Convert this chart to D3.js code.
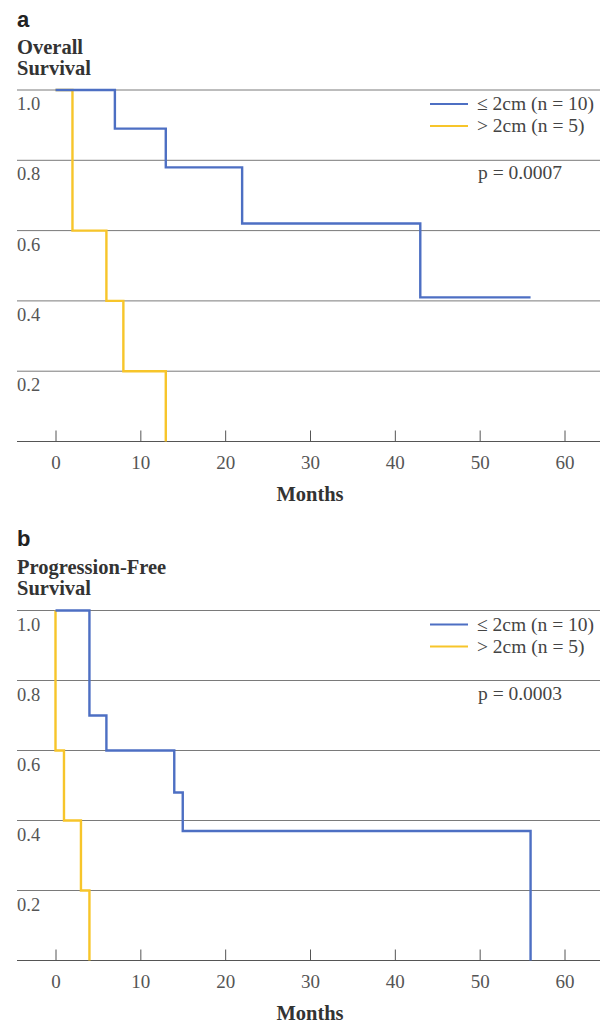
<!DOCTYPE html>
<html>
<head>
<meta charset="utf-8">
<script src="https://cdn.jsdelivr.net/npm/d3@7"></script>
<style>
  html, body { margin: 0; padding: 0; background: #fff; }
  svg { display: block; }
</style>
</head>
<body>
<svg id="chart" width="610" height="1023"></svg>
<script>
// ---- Data ----
const xTicks = [0, 10, 20, 30, 40, 50, 60];
const yTicks = [0.2, 0.4, 0.6, 0.8, 1.0];
const yTickLabels = ["0.2", "0.4", "0.6", "0.8", "1.0"];
const seriesNames = ["\u2264 2cm (n = 10)", "> 2cm (n = 5)"];

// Panel a: Overall Survival
const osSmallMonths = [0, 7, 13, 22, 43, 56];
const osSmallSurv   = [1.0, 0.89, 0.78, 0.62, 0.41, 0.41];
const osLargeMonths = [0, 2, 6, 8, 13];
const osLargeSurv   = [1.0, 0.6, 0.4, 0.2, 0.0];
const osPValue = "p = 0.0007";

// Panel b: Progression-Free Survival
const pfsSmallMonths = [0, 4, 6, 14, 15, 56];
const pfsSmallSurv   = [1.0, 0.7, 0.6, 0.48, 0.37, 0.0];
const pfsLargeMonths = [0, 0, 1, 3, 4];
const pfsLargeSurv   = [1.0, 0.6, 0.4, 0.2, 0.0];
const pfsPValue = "p = 0.0003";

// ---- Styles ----
const BLUE = "#4d6fc3";
const YELLOW = "#f7c52a";
const SERIF = "'Liberation Serif', 'Times New Roman', serif";
const SANS = "'Liberation Sans', Arial, sans-serif";

const svg = d3.select("#chart");
const x = d3.scaleLinear().domain([0, 60]).range([55.5, 564.5]);
const gridLeft = 17, gridRight = 600;

function zip(ts, vs) { return ts.map((t, i) => [t, vs[i]]); }

function panel(opts) {
  const g = svg.append("g");
  const y = d3.scaleLinear().domain([0, 1]).range([opts.y0, opts.y1]);

  // panel letter and title
  g.append("text").attr("x", 17).attr("y", opts.letterY)
    .attr("font-family", SANS).attr("font-weight", "bold").attr("font-size", 22)
    .attr("fill", "#222").text(opts.letter);
  opts.title.forEach((t, i) => {
    g.append("text").attr("x", 17).attr("y", opts.titleY + i * 21)
      .attr("font-family", SERIF).attr("font-weight", "bold").attr("font-size", 20.5)
      .attr("fill", "#333").text(t);
  });

  // gridlines
  g.selectAll(".grid").data(yTicks).enter().append("line")
    .attr("x1", gridLeft).attr("x2", gridRight)
    .attr("y1", d => y(d)).attr("y2", d => y(d))
    .attr("stroke", "#7a7a7a").attr("stroke-width", 1);
  // y labels (inside, below gridline)
  g.selectAll(".ylab").data(yTicks).enter().append("text")
    .attr("x", gridLeft).attr("y", d => y(d) + 20)
    .attr("font-family", SERIF).attr("font-size", 18.5).attr("fill", "#555")
    .text((d, i) => yTickLabels[i]);

  // x axis
  g.append("line").attr("x1", gridLeft).attr("x2", gridRight)
    .attr("y1", y(0)).attr("y2", y(0)).attr("stroke", "#555").attr("stroke-width", 1.2);
  const ax = g.append("g").attr("transform", `translate(0,${y(0)})`)
    .call(d3.axisBottom(x).tickValues(xTicks).tickSizeInner(-11).tickSizeOuter(0).tickPadding(14));
  ax.select(".domain").remove();
  ax.selectAll(".tick line").attr("stroke", "#555").attr("stroke-width", 1);
  ax.selectAll(".tick text").attr("font-family", SERIF).attr("font-size", 19).attr("fill", "#555");

  g.append("text").attr("x", x(30)).attr("y", opts.monthsY).attr("text-anchor", "middle")
    .attr("font-family", SERIF).attr("font-weight", "bold").attr("font-size", 20.5)
    .attr("fill", "#333").text("Months");

  // curves
  const line = d3.line().x(d => x(d[0])).y(d => y(d[1])).curve(d3.curveStepAfter);
  g.append("path").datum(zip(opts.largeM, opts.largeS)).attr("d", line)
    .attr("fill", "none").attr("stroke", YELLOW).attr("stroke-width", 2.4);
  g.append("path").datum(zip(opts.smallM, opts.smallS)).attr("d", line)
    .attr("fill", "none").attr("stroke", BLUE).attr("stroke-width", 2.4);

  // legend
  const ly = y(1) + 14;
  [BLUE, YELLOW].forEach((c, i) => {
    g.append("line").attr("x1", 430).attr("x2", 468)
      .attr("y1", ly + i * 22).attr("y2", ly + i * 22)
      .attr("stroke", c).attr("stroke-width", 2);
    g.append("text").attr("x", 477).attr("y", ly + i * 22 + 6)
      .attr("font-family", SERIF).attr("font-size", 19.5).attr("fill", "#444")
      .text(seriesNames[i]);
  });
  g.append("text").attr("x", 478).attr("y", y(1) + 89)
    .attr("font-family", SERIF).attr("font-size", 19.5).attr("fill", "#444")
    .text(opts.p);
}

panel({
  letter: "a", letterY: 27, title: ["Overall", "Survival"], titleY: 54,
  y0: 441.5, y1: 90, monthsY: 501,
  smallM: osSmallMonths, smallS: osSmallSurv, largeM: osLargeMonths, largeS: osLargeSurv,
  p: osPValue
});
panel({
  letter: "b", letterY: 546, title: ["Progression-Free", "Survival"], titleY: 574,
  y0: 960.5, y1: 610.5, monthsY: 1020,
  smallM: pfsSmallMonths, smallS: pfsSmallSurv, largeM: pfsLargeMonths, largeS: pfsLargeSurv,
  p: pfsPValue
});
</script>
</body>
</html>
